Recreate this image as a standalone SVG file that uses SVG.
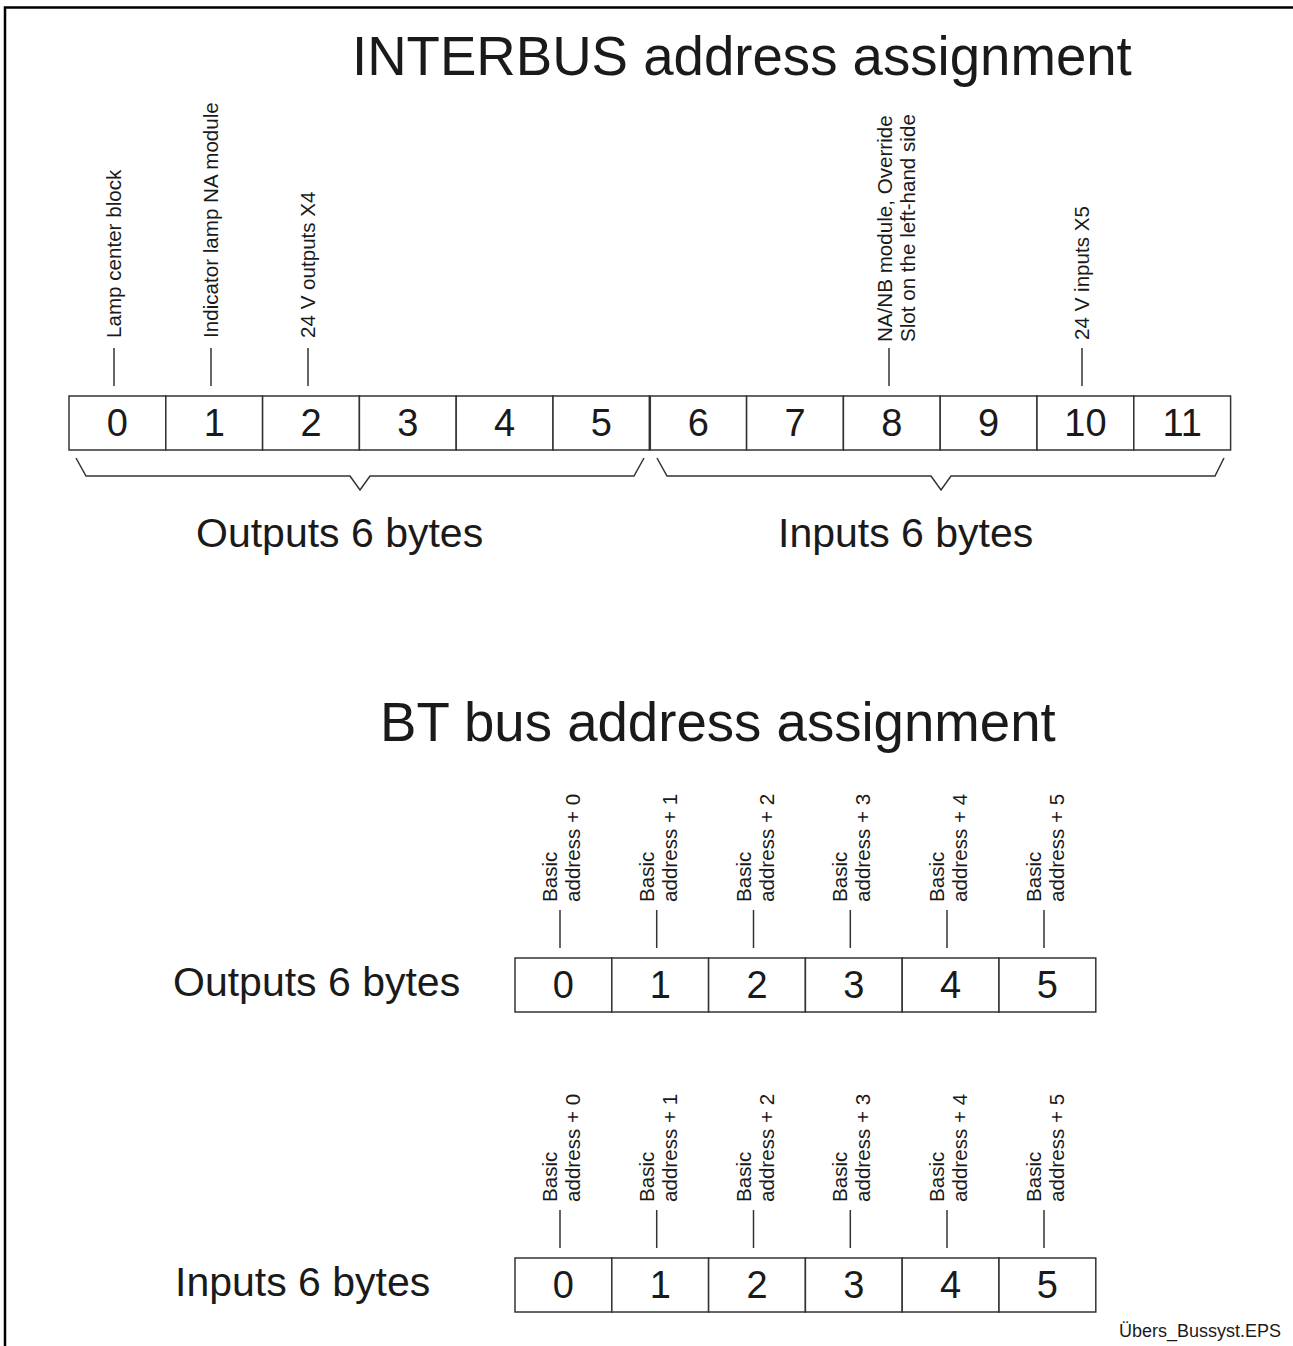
<svg xmlns="http://www.w3.org/2000/svg" width="1293" height="1346" viewBox="0 0 1293 1346">
<style>
text{font-family:"Liberation Sans",Arial,sans-serif;fill:#1a1a1a}
.title{font-size:54.6px}
.big{font-size:41px}
.dig{font-size:38px;text-anchor:middle}
.lbl{font-size:20.6px}
.file{font-size:18px;text-anchor:end}
.cell{fill:#fff;stroke:#333;stroke-width:1.5}
.ln{stroke:#333;stroke-width:1.5;fill:none}
.frame{stroke:#000;stroke-width:2.5;fill:none}
</style>
<rect width="1293" height="1346" fill="#fff"/>
<path class="frame" d="M5,1346 V7.5 H1293"/>

<text id="title-interbus" class="title" x="352" y="75">INTERBUS address assignment</text>
<text id="title-bt" class="title" x="380" y="741">BT bus address assignment</text>

<g id="interbus-row">
<g id="ib0"><rect class="cell" x="69" y="396" width="96.8" height="54"/><text class="dig" x="117.4" y="436">0</text></g>
<g id="ib1"><rect class="cell" x="165.8" y="396" width="96.8" height="54"/><text class="dig" x="214.2" y="436">1</text></g>
<g id="ib2"><rect class="cell" x="262.6" y="396" width="96.8" height="54"/><text class="dig" x="311" y="436">2</text></g>
<g id="ib3"><rect class="cell" x="359.4" y="396" width="96.8" height="54"/><text class="dig" x="407.8" y="436">3</text></g>
<g id="ib4"><rect class="cell" x="456.2" y="396" width="96.8" height="54"/><text class="dig" x="504.6" y="436">4</text></g>
<g id="ib5"><rect class="cell" x="553" y="396" width="96.8" height="54"/><text class="dig" x="601.4" y="436">5</text></g>
<g id="ib6"><rect class="cell" x="649.8" y="396" width="96.8" height="54"/><text class="dig" x="698.2" y="436">6</text></g>
<g id="ib7"><rect class="cell" x="746.6" y="396" width="96.8" height="54"/><text class="dig" x="795" y="436">7</text></g>
<g id="ib8"><rect class="cell" x="843.4" y="396" width="96.8" height="54"/><text class="dig" x="891.8" y="436">8</text></g>
<g id="ib9"><rect class="cell" x="940.2" y="396" width="96.8" height="54"/><text class="dig" x="988.6" y="436">9</text></g>
<g id="ib10"><rect class="cell" x="1037" y="396" width="96.8" height="54"/><text class="dig" x="1085.4" y="436">10</text></g>
<g id="ib11"><rect class="cell" x="1133.8" y="396" width="96.8" height="54"/><text class="dig" x="1182.2" y="436">11</text></g>
<line x1="649.8" y1="396" x2="649.8" y2="450" stroke="#333" stroke-width="2.5"/>
</g>

<g id="interbus-labels">
<g id="lbl-ib0"><text class="lbl" transform="translate(121,338) rotate(-90)">Lamp center block</text></g>
<g id="lbl-ib1"><text class="lbl" transform="translate(218,338) rotate(-90)">Indicator lamp NA module</text></g>
<g id="lbl-ib2"><text class="lbl" transform="translate(315,338) rotate(-90)">24 V outputs X4</text></g>
<g id="lbl-ib8"><text class="lbl" transform="translate(892,342) rotate(-90)"><tspan x="0" y="0">NA/NB module, Override</tspan><tspan x="0" y="23">Slot on the left-hand side</tspan></text></g>
<g id="lbl-ib10"><text class="lbl" transform="translate(1089,340) rotate(-90)">24 V inputs X5</text></g>
</g>

<g id="ib-groups">
<text id="ib-out" class="big" x="196" y="547">Outputs 6 bytes</text>
<text id="ib-in" class="big" x="778" y="547">Inputs 6 bytes</text>
</g>

<g id="bt-out-row">
<text id="bt-out-title" class="big" x="173" y="996">Outputs 6 bytes</text>
<g id="bo0"><rect class="cell" x="515" y="958" width="96.8" height="54"/><text class="dig" x="563.4" y="998">0</text></g>
<g id="bo1"><rect class="cell" x="611.8" y="958" width="96.8" height="54"/><text class="dig" x="660.2" y="998">1</text></g>
<g id="bo2"><rect class="cell" x="708.6" y="958" width="96.8" height="54"/><text class="dig" x="757" y="998">2</text></g>
<g id="bo3"><rect class="cell" x="805.4" y="958" width="96.8" height="54"/><text class="dig" x="853.8" y="998">3</text></g>
<g id="bo4"><rect class="cell" x="902.2" y="958" width="96.8" height="54"/><text class="dig" x="950.6" y="998">4</text></g>
<g id="bo5"><rect class="cell" x="999" y="958" width="96.8" height="54"/><text class="dig" x="1047.4" y="998">5</text></g>
</g>

<g id="bt-out-labels">
<g id="lbl-bo0"><text class="lbl" transform="translate(557,902) rotate(-90)"><tspan x="0" y="0">Basic</tspan><tspan x="0" y="23">address + 0</tspan></text></g>
<g id="lbl-bo1"><text class="lbl" transform="translate(653.7,902) rotate(-90)"><tspan x="0" y="0">Basic</tspan><tspan x="0" y="23">address + 1</tspan></text></g>
<g id="lbl-bo2"><text class="lbl" transform="translate(750.5,902) rotate(-90)"><tspan x="0" y="0">Basic</tspan><tspan x="0" y="23">address + 2</tspan></text></g>
<g id="lbl-bo3"><text class="lbl" transform="translate(847.3,902) rotate(-90)"><tspan x="0" y="0">Basic</tspan><tspan x="0" y="23">address + 3</tspan></text></g>
<g id="lbl-bo4"><text class="lbl" transform="translate(944,902) rotate(-90)"><tspan x="0" y="0">Basic</tspan><tspan x="0" y="23">address + 4</tspan></text></g>
<g id="lbl-bo5"><text class="lbl" transform="translate(1041,902) rotate(-90)"><tspan x="0" y="0">Basic</tspan><tspan x="0" y="23">address + 5</tspan></text></g>
</g>

<g id="bt-in-row">
<text id="bt-in-title" class="big" x="175" y="1296">Inputs 6 bytes</text>
<g id="bi0"><rect class="cell" x="515" y="1258" width="96.8" height="54"/><text class="dig" x="563.4" y="1298">0</text></g>
<g id="bi1"><rect class="cell" x="611.8" y="1258" width="96.8" height="54"/><text class="dig" x="660.2" y="1298">1</text></g>
<g id="bi2"><rect class="cell" x="708.6" y="1258" width="96.8" height="54"/><text class="dig" x="757" y="1298">2</text></g>
<g id="bi3"><rect class="cell" x="805.4" y="1258" width="96.8" height="54"/><text class="dig" x="853.8" y="1298">3</text></g>
<g id="bi4"><rect class="cell" x="902.2" y="1258" width="96.8" height="54"/><text class="dig" x="950.6" y="1298">4</text></g>
<g id="bi5"><rect class="cell" x="999" y="1258" width="96.8" height="54"/><text class="dig" x="1047.4" y="1298">5</text></g>
</g>

<g id="bt-in-labels">
<g id="lbl-bi0"><text class="lbl" transform="translate(557,1202) rotate(-90)"><tspan x="0" y="0">Basic</tspan><tspan x="0" y="23">address + 0</tspan></text></g>
<g id="lbl-bi1"><text class="lbl" transform="translate(653.7,1202) rotate(-90)"><tspan x="0" y="0">Basic</tspan><tspan x="0" y="23">address + 1</tspan></text></g>
<g id="lbl-bi2"><text class="lbl" transform="translate(750.5,1202) rotate(-90)"><tspan x="0" y="0">Basic</tspan><tspan x="0" y="23">address + 2</tspan></text></g>
<g id="lbl-bi3"><text class="lbl" transform="translate(847.3,1202) rotate(-90)"><tspan x="0" y="0">Basic</tspan><tspan x="0" y="23">address + 3</tspan></text></g>
<g id="lbl-bi4"><text class="lbl" transform="translate(944,1202) rotate(-90)"><tspan x="0" y="0">Basic</tspan><tspan x="0" y="23">address + 4</tspan></text></g>
<g id="lbl-bi5"><text class="lbl" transform="translate(1041,1202) rotate(-90)"><tspan x="0" y="0">Basic</tspan><tspan x="0" y="23">address + 5</tspan></text></g>
</g>

<g id="connectors">
<line class="ln" x1="114" y1="348" x2="114" y2="386"/>
<line class="ln" x1="211" y1="348" x2="211" y2="386"/>
<line class="ln" x1="308" y1="348" x2="308" y2="386"/>
<line class="ln" x1="889" y1="348" x2="889" y2="386"/>
<line class="ln" x1="1082" y1="348" x2="1082" y2="386"/>
<path class="ln" d="M76,458 L86,476 L350,476 L360,490 L370,476 L634,476 L644,458"/>
<path class="ln" d="M657,458 L667,476 L931,476 L941,490 L951,476 L1215,476 L1224,458"/>
<line class="ln" x1="560" y1="910" x2="560" y2="948"/>
<line class="ln" x1="656.7" y1="910" x2="656.7" y2="948"/>
<line class="ln" x1="753.5" y1="910" x2="753.5" y2="948"/>
<line class="ln" x1="850.3" y1="910" x2="850.3" y2="948"/>
<line class="ln" x1="947" y1="910" x2="947" y2="948"/>
<line class="ln" x1="1044" y1="910" x2="1044" y2="948"/>
<line class="ln" x1="560" y1="1210" x2="560" y2="1248"/>
<line class="ln" x1="656.7" y1="1210" x2="656.7" y2="1248"/>
<line class="ln" x1="753.5" y1="1210" x2="753.5" y2="1248"/>
<line class="ln" x1="850.3" y1="1210" x2="850.3" y2="1248"/>
<line class="ln" x1="947" y1="1210" x2="947" y2="1248"/>
<line class="ln" x1="1044" y1="1210" x2="1044" y2="1248"/>
</g>

<text id="filename" class="file" x="1281" y="1337">Übers_Bussyst.EPS</text>
</svg>
